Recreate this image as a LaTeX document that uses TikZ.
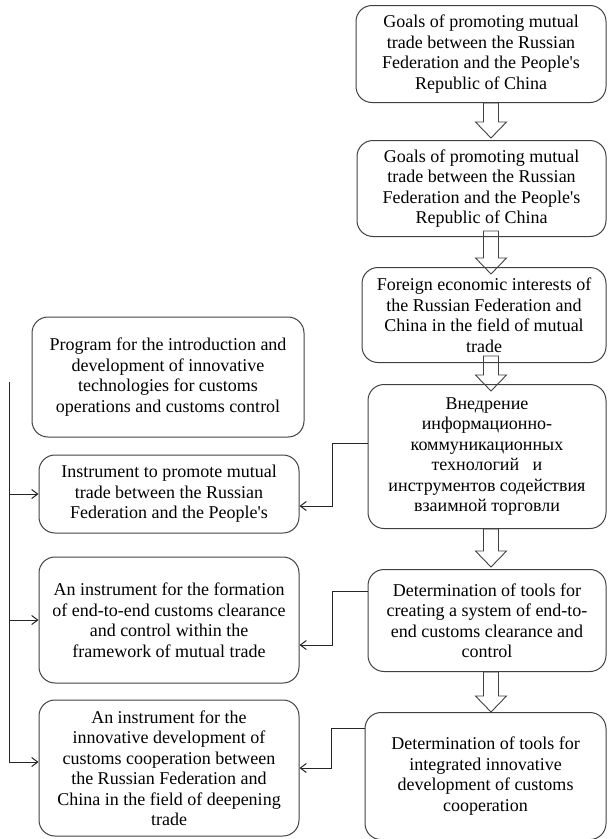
\documentclass[tikz,border=0pt]{standalone}
\usepackage{fontspec}
\setmainfont{Liberation Serif}
\newfontfamily\boxfont{Liberation Serif}
\usetikzlibrary{positioning, calc, arrows.meta}

% hollow block arrow between two boxes of the right column
\newcommand{\blockarrow}[4]{%
  \draw[hollow] ($(#1.south -| axis)+(-7.5,#3)$) -- ($(#1.south -| axis)+(7.5,#3)$)
    -- ($(#2.north -| axis)+(7.5,#4-16)$) -- ($(#2.north -| axis)+(15.5,#4-16)$)
    -- ($(#2.north -| axis)+(0,#4)$) -- ($(#2.north -| axis)+(-15.5,#4-16)$)
    -- ($(#2.north -| axis)+(-7.5,#4-16)$) -- cycle;}

\begin{document}
\begin{tikzpicture}[
        x=1pt, y=-1pt,
        box/.style={draw=black!75, line width=1pt, rounded corners=16pt, align=center, inner sep=2pt, font=\boxfont\fontsize{18pt}{20.5pt}\selectfont},
        link/.style={draw=black!85, line width=1pt},
        arr/.style={link, -{Straight Barb[length=6pt, width=9pt]}},
        hollow/.style={draw=black!75, line width=0.9pt, line join=miter}
    ]
    \useasboundingbox (0,0) rectangle (608,839);

    % Knoten rechts
    \node[box, anchor=north east, minimum width=250pt, minimum height=97pt] (goalsA) at (606.5,5) {Goals of promoting mutual\\trade between the Russian\\Federation and the People\textquotesingle s\\Republic of China};
    \node[box, below=37pt of goalsA.south east, anchor=north east, minimum width=249pt, minimum height=96pt] (goalsB) {Goals of promoting mutual\\trade between the Russian\\Federation and the People\textquotesingle s\\Republic of China};
    \node[box, below=30pt of goalsB.south east, anchor=north east, minimum width=244pt, minimum height=95pt] (interests) {Foreign economic interests of\\the Russian Federation and\\China in the field of mutual\\trade};
    \node[box, below=21pt of interests.south east, anchor=north east, minimum width=238pt, minimum height=144pt] (ict) {Внедрение\\информационно-\\коммуникационных\\технологий\ \ \ и\\инструментов содействия\\взаимной торговли};
    \node[box, below=40pt of ict.south east, anchor=north east, minimum width=238pt, minimum height=102pt] (clearance) {Determination of tools for\\creating a system of end-to-\\end customs clearance and\\control};
    \node[box, below=40pt of clearance.south east, anchor=north east, minimum width=241pt, minimum height=127pt] (integrated) {Determination of tools for\\integrated innovative\\development of customs\\cooperation};

    % Knoten links
    \node[box, minimum width=272pt, minimum height=120pt] (program) at (168,377) {Program for the introduction and\\development of innovative\\technologies for customs\\operations and customs control};
    \node[box, minimum width=260pt, minimum height=78pt] (instrA) at (169,494) {Instrument to promote mutual\\trade between the Russian\\Federation and the People\textquotesingle s};
    \node[box, minimum width=260pt, minimum height=126pt] (instrB) at (169,620) {An instrument for the formation\\of end-to-end customs clearance\\and control within the\\framework of mutual trade};
    \node[box, minimum width=260pt, minimum height=136pt] (instrC) at (169,768) {An instrument for the\\innovative development of\\customs cooperation between\\the Russian Federation and\\China in the field of deepening\\trade};

    % Blockpfeile
    \coordinate (axis) at (491,0);
    \blockarrow{goalsA}{goalsB}{0}{-2}
    \blockarrow{goalsB}{interests}{-6}{7}
    \blockarrow{interests}{ict}{-7}{7}
    \blockarrow{ict}{clearance}{0}{-2}
    \blockarrow{clearance}{integrated}{0}{0}

    % Kanten
    \coordinate (bus) at (9,382);
    \draw[arr] (bus) |- ([yshift=6pt]instrC.west);
    \draw[arr] (bus |- instrA.west) -- (instrA.west);
    \draw[arr] (bus |- instrB.west) -- (instrB.west);
    \draw[arr] ([yshift=13pt]ict.west) -- ++(-35,0) |- ([yshift=-12pt]instrA.east);
    \draw[arr] ([yshift=29pt]clearance.west) -- ++(-35,0) |- ([yshift=-25pt]instrB.east);
    \draw[arr] ([yshift=48pt]integrated.west) -- ++(-33,0) |- (instrC.east);

\end{tikzpicture}
\end{document}
